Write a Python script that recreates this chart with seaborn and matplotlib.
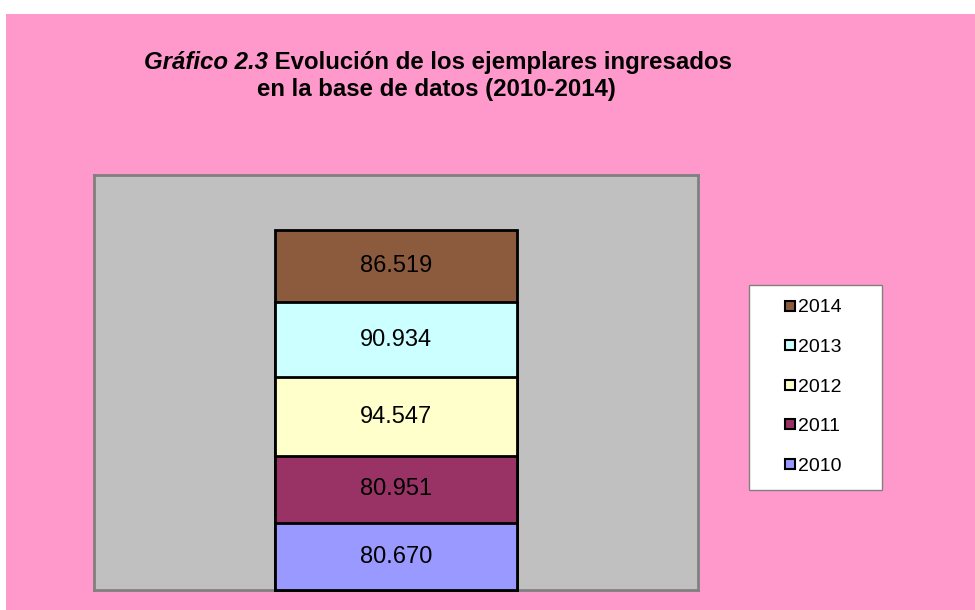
import matplotlib
matplotlib.use('Agg')
import matplotlib.pyplot as plt
import seaborn as sns
import pandas as pd
import numpy as np
from matplotlib.lines import Line2D
from matplotlib.patches import Rectangle

# data
years = ['2010', '2011', '2012', '2013', '2014']
ejemplares = [80670, 80951, 94547, 90934, 86519]
colores = ['#9999FF', '#993366', '#FFFFCC', '#CCFFFF', '#8C5A3C']

sns.set_style('white')
plt.rcParams['font.family'] = ['Liberation Sans', 'DejaVu Sans']
plt.rcParams['text.color'] = 'black'

fig = plt.figure(figsize=(9.75, 6.1), dpi=100)
fig.patch.set_facecolor('white')
# pink chart area (thin white margin on top and left)
fig.patches.append(Rectangle((6 / 975, 0), 1 - 6 / 975, 1 - 14 / 610,
                             transform=fig.transFigure, facecolor='#FF99CC',
                             edgecolor='none', zorder=-1))

ax = fig.add_axes([0.0964, 0.0328, 0.6195, 0.6805])
ax.set_facecolor('#C0C0C0')

acum = np.cumsum(ejemplares)
df = pd.DataFrame({'serie': ['total'] * len(years), 'year': years,
                   'valor': ejemplares, 'acum': acum})

# stacked bar: draw cumulative totals from the top down
for i in range(len(years) - 1, -1, -1):
    sns.barplot(data=df.iloc[[i]], x='serie', y='acum', color=colores[i],
                width=0.4, edgecolor='black', linewidth=2, saturation=1, ax=ax)
for p in ax.patches:
    p.set_clip_on(False)
    p.set_zorder(3)

for i, v in enumerate(ejemplares):
    mid = acum[i] - v / 2
    ax.text(0, mid, f'{v:,}'.replace(',', '.'), ha='center', va='center',
            fontsize=17, color='black', zorder=4)

ax.set_ylim(0, 500000)
ax.set_xlim(-0.5, 0.5)
ax.set_xticks([])
ax.set_yticks([])
ax.set_xlabel('')
ax.set_ylabel('')
for s in ax.spines.values():
    s.set_visible(True)
    s.set_color('#808080')
    s.set_linewidth(2)

# legend box drawn separately (wider side padding than matplotlib allows)
fig.patches.append(Rectangle((0.768, 0.1967), 0.1364, 0.336,
                             transform=fig.transFigure, facecolor='white',
                             edgecolor='#808080', linewidth=1, zorder=0))
handles = [Line2D([], [], marker='s', linestyle='none', markersize=7.5,
                  markerfacecolor=colores[i], markeredgecolor='black',
                  markeredgewidth=1.5, label=years[i])
           for i in range(len(years) - 1, -1, -1)]
leg = fig.legend(handles=handles, loc='center', bbox_to_anchor=(0.834, 0.366),
                 frameon=False, fontsize=14, labelspacing=1.13,
                 handlelength=0.6, handletextpad=0.1, borderpad=0,
                 borderaxespad=0)
for t in leg.get_texts():
    t.set_color('black')

# title
t1 = fig.text(0.148, 0.887, 'Gráfico 2.3', fontsize=17.3, fontweight='bold',
              fontstyle='italic', ha='left', va='baseline', color='black')
ax.annotate(' Evolución de los ejemplares ingresados', xy=(1, 0), xycoords=t1,
            fontsize=17.3, fontweight='bold', ha='left', va='bottom',
            color='black', annotation_clip=False)
fig.text(0.448, 0.842, 'en la base de datos (2010-2014)', fontsize=17.3,
         fontweight='bold', ha='center', va='baseline', color='black')

fig.savefig('out.png', dpi=100, facecolor=fig.get_facecolor())
